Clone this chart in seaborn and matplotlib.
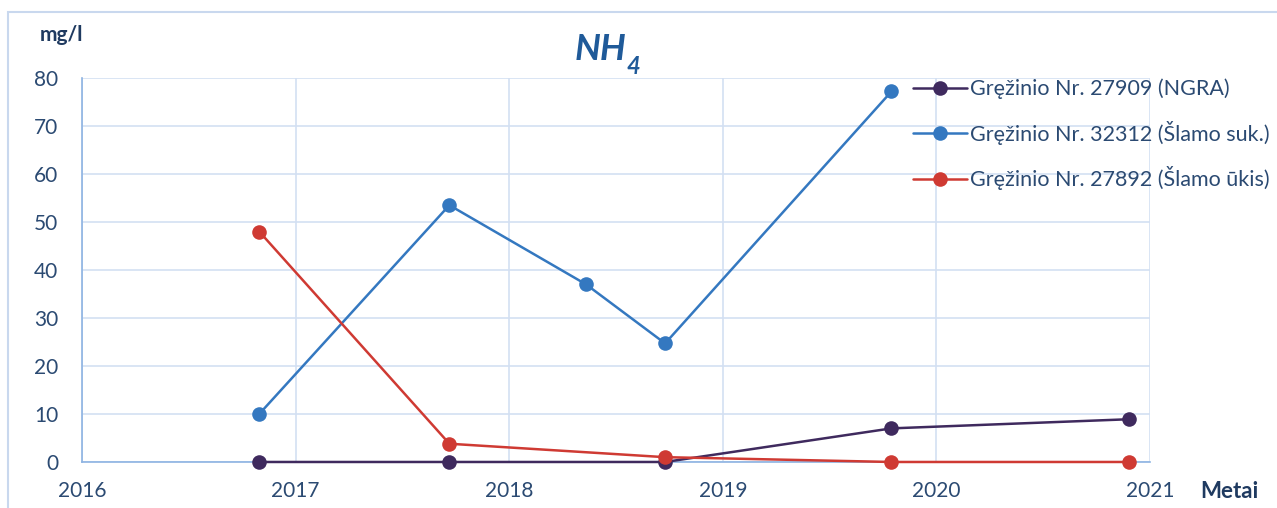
import matplotlib
matplotlib.use("Agg")
import matplotlib.pyplot as plt
import matplotlib.patches as mpatches
import seaborn as sns
import pandas as pd

# Sampling dates (decimal years) and NH4 concentrations, mg/l
dates_27909 = [2016.83, 2017.72, 2018.73, 2019.79, 2020.90]
nh4_27909 = [0, 0, 0, 7, 8.9]

dates_32312 = [2016.83, 2017.72, 2018.36, 2018.73, 2019.79]
nh4_32312 = [10, 53.5, 37, 24.7, 77.2]

dates_27892 = [2016.83, 2017.72, 2018.73, 2019.79, 2020.90]
nh4_27892 = [48, 3.8, 1, 0, 0]

series_names = [
    "Gręžinio Nr. 27909 (NGRA)",
    "Gręžinio Nr. 32312 (Šlamo suk.)",
    "Gręžinio Nr. 27892 (Šlamo ūkis)",
]
series_colors = ["#3f2a5e", "#3478c0", "#cf3a33"]

year_ticks = [2016, 2017, 2018, 2019, 2020, 2021]
value_ticks = [0, 10, 20, 30, 40, 50, 60, 70, 80]

frames = []
for name, xs, ys in zip(series_names,
                        [dates_27909, dates_32312, dates_27892],
                        [nh4_27909, nh4_32312, nh4_27892]):
    frames.append(pd.DataFrame({"Metai": xs, "NH4": ys, "Gręžinys": name}))
df = pd.concat(frames, ignore_index=True)

sns.set_theme(style="white")
plt.rcParams["font.family"] = ["Lato", "DejaVu Sans"]

text_col = "#2b4a72"
grid_col = "#d3e0f2"
axis_col = "#8db3e2"

fig = plt.figure(figsize=(12.77, 5.08), dpi=100)
ax = fig.add_axes([0.0642, 0.0906, 0.8363, 0.7559])

sns.lineplot(
    data=df, x="Metai", y="NH4", hue="Gręžinys", hue_order=series_names,
    palette=series_colors, marker="o", markersize=10.5, markeredgewidth=0,
    linewidth=1.8, sort=False, estimator=None, ax=ax, legend=False,
)
for line in ax.lines:
    line.set_clip_on(False)
    line.set_zorder(3)

ax.set_xlim(2016, 2021)
ax.set_ylim(0, 80)
ax.set_xticks(year_ticks)
ax.set_yticks(value_ticks)
ax.set_xticklabels([str(y) for y in year_ticks])
ax.grid(True, color=grid_col, linewidth=1.2)
ax.set_axisbelow(True)
ax.tick_params(axis="both", length=0, labelsize=15, colors=text_col)
ax.tick_params(axis="x", pad=14)
ax.tick_params(axis="y", pad=17)
ax.set_xlabel("")
ax.set_ylabel("")
for side in ["top", "right"]:
    ax.spines[side].set_visible(False)
for side in ["left", "bottom"]:
    ax.spines[side].set_color(axis_col)
    ax.spines[side].set_linewidth(1.2)

# Legend built from the series styles
handles = [
    plt.Line2D([], [], color=c, marker="o", markersize=10.5, linewidth=1.8,
               markeredgewidth=0)
    for c in series_colors
]
fig.legend(handles, series_names, loc="upper left",
           bbox_to_anchor=(0.700, 0.883), frameon=False, fontsize=15.5,
           handlelength=2.5, handletextpad=0.15, labelspacing=1.0,
           labelcolor=text_col)

# Title with subscript
t = fig.text(0.450, 0.902, "NH", fontsize=26, fontweight="bold",
             fontstyle="italic", color="#1f5a99", ha="left", va="center")
fig.canvas.draw()
ax.annotate("4", xy=(1.0, 0.0), xycoords=t, fontsize=17,
            fontweight="bold", fontstyle="italic", color="#1f5a99",
            ha="left", va="center")

fig.text(0.031, 0.932, "mg/l", fontsize=15, fontweight="bold",
         color="#1f3a60", ha="left", va="center")
fig.text(0.940, 0.032, "Metai", fontsize=16, fontweight="bold",
         color="#1f3a60", ha="left", va="center")

# Outer chart frame
fig.patches.append(mpatches.Rectangle(
    (0.0063, -0.05), 1.2, 1.026, transform=fig.transFigure,
    fill=False, edgecolor="#c9d8ee", linewidth=1.5))

fig.savefig("out.png", dpi=100)
